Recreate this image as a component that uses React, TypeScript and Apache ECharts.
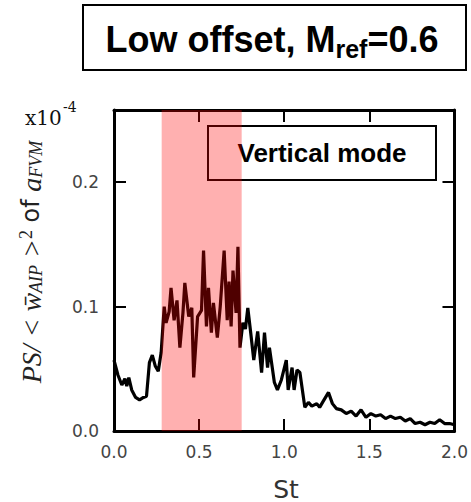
import React, { useEffect, useRef } from 'react';
import * as echarts from 'echarts';

// St (Strouhal number) samples and PS values (units of 1e-4)
const stValues = [
  0.000, 0.023, 0.046, 0.064, 0.075, 0.087, 0.104, 0.127, 0.150, 0.173, 0.191, 0.208, 0.225, 0.243, 0.260, 0.277,
  0.295, 0.306, 0.324, 0.335, 0.353, 0.370, 0.387, 0.405, 0.416, 0.439, 0.457, 0.468, 0.491, 0.514, 0.526, 0.543,
  0.555, 0.572, 0.584, 0.607, 0.624, 0.647, 0.665, 0.676, 0.688, 0.699, 0.717, 0.728, 0.740, 0.757, 0.772, 0.786,
  0.803, 0.821, 0.844, 0.867, 0.884, 0.902, 0.913, 0.942, 0.960, 0.983, 1.012, 1.023, 1.046, 1.058, 1.075, 1.092,
  1.121, 1.142, 1.162, 1.191, 1.208, 1.225, 1.260, 1.283, 1.306, 1.335, 1.364, 1.393, 1.422, 1.451, 1.480, 1.509,
  1.538, 1.566, 1.595, 1.624, 1.653, 1.682, 1.711, 1.740, 1.769, 1.798, 1.827, 1.856, 1.884, 1.913, 1.942, 1.971,
  2.000,
];
const psValues = [
  0.057, 0.045, 0.037, 0.042, 0.036, 0.043, 0.033, 0.027, 0.025, 0.027, 0.028, 0.055, 0.061, 0.052, 0.048, 0.063,
  0.100, 0.087, 0.096, 0.115, 0.089, 0.105, 0.067, 0.095, 0.119, 0.092, 0.099, 0.043, 0.092, 0.097, 0.145, 0.084,
  0.115, 0.079, 0.103, 0.075, 0.100, 0.145, 0.089, 0.120, 0.084, 0.129, 0.095, 0.148, 0.067, 0.087, 0.082, 0.099,
  0.079, 0.057, 0.080, 0.047, 0.079, 0.051, 0.067, 0.039, 0.033, 0.041, 0.057, 0.033, 0.051, 0.033, 0.049, 0.047,
  0.019, 0.023, 0.020, 0.022, 0.019, 0.023, 0.031, 0.022, 0.018, 0.017, 0.014, 0.016, 0.012, 0.017, 0.011, 0.014,
  0.012, 0.013, 0.010, 0.012, 0.010, 0.011, 0.008, 0.010, 0.006, 0.007, 0.005, 0.007, 0.006, 0.009, 0.006, 0.006,
  0.005,
];
const bandRange = [0.28, 0.75];
const xTickLabels = ['0.0', '0.5', '1.0', '1.5', '2.0'];
const yTickLabels = ['0.0', '0.1', '0.2'];

export default function App() {
  const ref = useRef<HTMLDivElement>(null);
  useEffect(() => {
    if (!ref.current) return;
    const chart = echarts.init(ref.current, null, { renderer: 'svg' });
    const lineData = stValues.map((s, i) => [s, psValues[i]]);
    const xFmt = (v: number) => {
      const idx = Math.round(v / 0.5);
      return Math.abs(v - idx * 0.5) < 1e-6 ? xTickLabels[idx] ?? '' : '';
    };
    const yFmt = (v: number) => {
      const idx = Math.round(v / 0.1);
      return Math.abs(v - idx * 0.1) < 1e-6 ? yTickLabels[idx] ?? '' : '';
    };
    const axisLine = { show: true, onZero: false, lineStyle: { color: '#000', width: 3 } };
    const axisTick = { show: true, inside: true, length: 12, lineStyle: { color: '#000', width: 2 } };
    const labelStyle = { color: '#444', fontSize: 17, fontFamily: 'DejaVu Sans' };
    chart.setOption({
      animation: false,
      backgroundColor: '#fff',
      grid: { left: 114, right: 11, top: 110, bottom: 71, containLabel: false },
      xAxis: [
        {
          type: 'value', min: 0, max: 2, interval: 0.5, position: 'bottom',
          axisLine, axisTick, splitLine: { show: false },
          axisLabel: { ...labelStyle, margin: 12, formatter: xFmt },
        },
        {
          type: 'value', min: 0, max: 2, interval: 0.5, position: 'top',
          axisLine, axisTick, splitLine: { show: false }, axisLabel: { show: false },
        },
      ],
      yAxis: [
        {
          type: 'value', min: 0, max: 0.258, interval: 0.1, position: 'left',
          axisLine, axisTick, splitLine: { show: false },
          axisLabel: { ...labelStyle, margin: 15, showMaxLabel: false, formatter: yFmt },
        },
        {
          type: 'value', min: 0, max: 0.258, interval: 0.1, position: 'right',
          axisLine, axisTick, splitLine: { show: false }, axisLabel: { show: false },
        },
      ],
      series: [
        {
          type: 'line', data: lineData, xAxisIndex: 0, yAxisIndex: 0,
          showSymbol: false, symbol: 'none', z: 2,
          lineStyle: { color: '#000', width: 3.2 },
        },
        {
          type: 'custom', xAxisIndex: 0, yAxisIndex: 0, z: 5, silent: true,
          data: [[bandRange[0], bandRange[1]]],
          encode: { x: [0, 1] },
          renderItem: (params: any, api: any) => {
            const x0 = api.coord([api.value(0), 0])[0];
            const x1 = api.coord([api.value(1), 0])[0];
            const cs = params.coordSys;
            return {
              type: 'rect',
              shape: { x: x0, y: cs.y, width: x1 - x0, height: cs.height },
              style: { fill: 'rgba(255,0,0,0.31)' },
            };
          },
        },
      ],
      graphic: [
        {
          type: 'rect', z: 1,
          shape: { x: 83, y: 5, width: 383, height: 65 },
          style: { fill: '#fff', stroke: '#000', lineWidth: 2 },
        },
        {
          type: 'text', z: 1, x: 272, y: 39.5,
          style: {
            text: '{m|Low offset, M}{s|ref}{m|=0.6}',
            align: 'center', verticalAlign: 'middle',
            rich: {
              m: { fontSize: 36, fontWeight: 'bold', fontFamily: 'Liberation Sans', fill: '#000', lineHeight: 44 },
              s: { fontSize: 25, fontWeight: 'bold', fontFamily: 'Liberation Sans', fill: '#000', lineHeight: 25, verticalAlign: 'bottom' },
            },
          },
        },
        {
          type: 'rect', z: 1,
          shape: { x: 208, y: 126, width: 228, height: 54 },
          style: { fill: '#fff', stroke: '#000', lineWidth: 2 },
        },
        {
          type: 'text', z: 1, x: 322, y: 153,
          style: {
            text: 'Vertical mode', fill: '#000',
            font: 'bold 26px "Liberation Sans"',
            align: 'center', verticalAlign: 'middle',
          },
        },
        {
          type: 'text', z: 1, x: 25, y: 118,
          style: { text: 'x10', fill: '#111', font: '20px "DejaVu Serif"', align: 'left', verticalAlign: 'middle' },
        },
        {
          type: 'text', z: 1, x: 63, y: 107,
          style: { text: '-4', fill: '#111', font: '14px "DejaVu Serif"', align: 'left', verticalAlign: 'middle' },
        },
        {
          type: 'text', z: 1, x: 286, y: 489,
          style: { text: 'St', fill: '#333', font: '25px "DejaVu Sans"', align: 'center', verticalAlign: 'middle' },
        },
        {
          type: 'text', z: 1, x: 31, y: 262, rotation: Math.PI / 2,
          style: {
            text: '{m|PS/ < w̄}{s|AIP}{m| >}{p|2}{o| of }{m|a}{s|FVM}',
            align: 'center', verticalAlign: 'middle',
            rich: {
              m: { fontSize: 28, fontStyle: 'italic', fontFamily: 'Liberation Serif', fill: '#222', lineHeight: 28 },
              s: { fontSize: 18, fontStyle: 'italic', fontFamily: 'Liberation Serif', fill: '#222', lineHeight: 18, verticalAlign: 'bottom' },
              p: { fontSize: 18, fontFamily: 'Liberation Serif', fill: '#222', lineHeight: 10, verticalAlign: 'top' },
              o: { fontSize: 24, fontFamily: 'DejaVu Sans', fill: '#222', lineHeight: 28 },
            },
          },
        },
      ],
    });
    return () => chart.dispose();
  }, []);
  return <div ref={ref} style={{ width: 471, height: 502, position: 'absolute', left: 0, top: 0 }} />;
}
